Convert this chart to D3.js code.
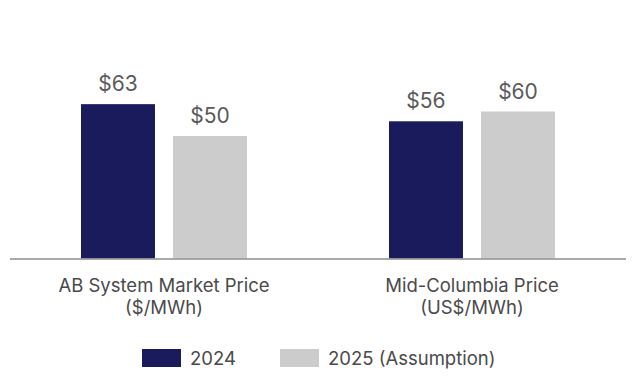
<!DOCTYPE html>
<html><head><meta charset="utf-8">
<script src="https://cdn.jsdelivr.net/npm/d3@7"></script>
<style>body{margin:0;background:#fff}svg{display:block}text{font-family:Inter,"Noto Sans",sans-serif}</style>
</head><body>
<svg id="c" width="636" height="384"></svg>
<script>
const categories = ["AB System Market Price|($/MWh)", "Mid-Columbia Price|(US$/MWh)"];
const seriesNames = ["2024", "2025 (Assumption)"];
const values2024 = [63, 56];
const values2025 = [50, 60];
const colors = ["#191b5c", "#cccccc"];

const svg = d3.select("#c");
const baseY = 258.5;
const x0 = d3.scaleBand().domain(categories).range([10, 626]).paddingInner(0.0).paddingOuter(0);
const x1 = d3.scaleBand().domain(seriesNames).range([0, 166]).paddingInner(0.196);
const y = d3.scaleLinear().domain([0, 100]).range([baseY, baseY - 245]);

const data = categories.map((c, i) => ({cat: c, vals: [values2024[i], values2025[i]]}));

const g = svg.append("g");
data.forEach(d => {
  const cx = x0(d.cat) + x0.bandwidth() / 2;
  const left = cx - 83;
  d.vals.forEach((v, j) => {
    const bx = left + x1(seriesNames[j]);
    g.append("rect").attr("x", bx).attr("y", y(v)).attr("width", x1.bandwidth())
      .attr("height", y(0) - y(v)).attr("fill", colors[j]);
    g.append("text").attr("x", bx + x1.bandwidth() / 2).attr("y", y(v) - 13)
      .attr("text-anchor", "middle").attr("font-size", 21).attr("fill", "#5a5a5a")
      .text("$" + v);
  });
  const lines = d.cat.split("|");
  lines.forEach((l, k) => {
    g.append("text").attr("x", cx).attr("y", 292 + k * 22).attr("text-anchor", "middle")
      .attr("font-size", 18.5).attr("fill", "#4a4a4a").text(l);
  });
});

// axis line
svg.append("line").attr("x1", 10).attr("x2", 626).attr("y1", baseY + 0.5).attr("y2", baseY + 0.5)
  .attr("stroke", "#8c8c8c").attr("stroke-width", 1.5);

// legend
const legX = [142, 280];
seriesNames.forEach((s, j) => {
  svg.append("rect").attr("x", legX[j]).attr("y", 349).attr("width", 39).attr("height", 18).attr("fill", colors[j]);
  svg.append("text").attr("x", legX[j] + 48).attr("y", 364.5).attr("font-size", 18.5)
    .attr("fill", "#4a4a4a").text(s);
});
</script>
</body></html>
